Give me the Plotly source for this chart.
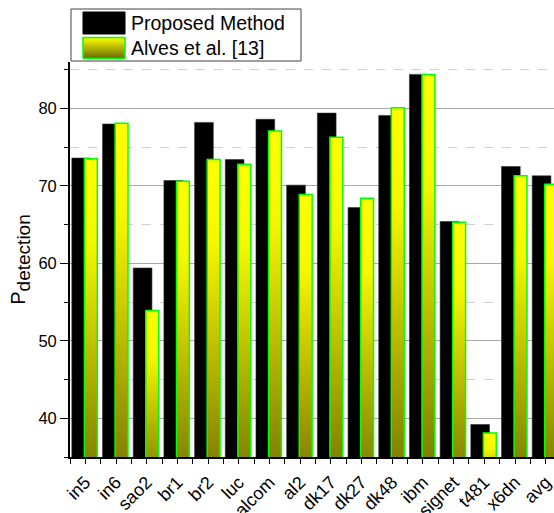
import plotly.graph_objects as go

# Benchmark circuits and detection probabilities (%)
circuits = ["in5", "in6", "sao2", "br1", "br2", "luc", "alcom", "al2", "dk17",
            "dk27", "dk48", "ibm", "signet", "t481", "x6dn", "avg"]
proposed = [73.6, 78.0, 59.4, 70.7, 78.2, 73.4, 78.6, 70.1, 79.4,
            67.2, 79.1, 84.4, 65.4, 39.2, 72.5, 71.3]
alves = [73.5, 78.1, 53.9, 70.6, 73.4, 72.8, 77.1, 68.9, 76.3,
         68.4, 80.1, 84.4, 65.3, 38.1, 71.3, 70.2]
y_ticks = [40, 50, 60, 70, 80]

FONT = "Arial, Liberation Sans, sans-serif"
W, H = 554, 513
ML, MR, MT, MB = 70, 0, 0, 56
PW, PH = W - ML - MR, H - MT - MB
AXIS_TOP = 62  # pixel row where the value axis ends

OLIVE_YELLOW = [[0.0, "rgb(112,112,0)"], [0.75, "rgb(246,246,0)"], [1.0, "rgb(255,255,0)"]]

# bar geometry in category units
BLACK_OFF, BLACK_W = -0.44, 0.61
YEL_OFF, YEL_W = -0.03, 0.42

idx = list(range(len(circuits)))

fig = go.Figure()

fig.add_trace(go.Bar(
    x=idx, y=proposed, width=BLACK_W, offset=BLACK_OFF,
    marker=dict(color="black", line=dict(color="#303030", width=0.6)),
    showlegend=False, name="Proposed Method",
))

# gradient-filled bars for the comparison method
for i, v in zip(idx, alves):
    x0, x1 = i + YEL_OFF, i + YEL_OFF + YEL_W
    fig.add_trace(go.Scatter(
        x=[x0, x0, x1, x1, x0], y=[0, v, v, 0, 0],
        mode="lines", fill="toself",
        line=dict(color="#00ff00", width=1.5),
        fillgradient=dict(type="vertical", colorscale=OLIVE_YELLOW, start=30, stop=v),
        hoverinfo="skip", showlegend=False,
    ))

# ---- legend drawn in its own small pixel-space axes ----
LX0, LX1, LY0, LY1 = 71, 301, 9, 61
fig.add_shape(type="rect", xref="x2", yref="y2", x0=LX0, x1=LX1, y0=LY0, y1=LY1,
              line=dict(color="#404040", width=1), fillcolor="white", layer="below")
fig.add_trace(go.Scatter(
    x=[83, 83, 125, 125, 83], y=[34, 12, 12, 34, 34], xaxis="x2", yaxis="y2",
    mode="lines", fill="toself", fillcolor="black", line=dict(color="black", width=1),
    hoverinfo="skip", showlegend=False,
))
fig.add_trace(go.Scatter(
    x=[83, 83, 125, 125, 83], y=[58.5, 37.5, 37.5, 58.5, 58.5], xaxis="x2", yaxis="y2",
    mode="lines", fill="toself", line=dict(color="#00ff00", width=1.5),
    fillgradient=dict(type="vertical", colorscale=[[0, "rgb(105,105,0)"], [1, "rgb(255,255,0)"]],
                      start=58.5, stop=37.5),
    hoverinfo="skip", showlegend=False,
))
for ty, label in [(23, "Proposed Method"), (48, "Alves et al. [13]")]:
    fig.add_annotation(x=128.5, y=ty, xref="x2", yref="y2", text=label, showarrow=False,
                       xanchor="left", yanchor="middle",
                       font=dict(family=FONT, size=19.5, color="black"))

ydom_top = (PH - AXIS_TOP) / PH

fig.update_layout(
    width=W, height=H,
    margin=dict(l=ML, r=MR, t=MT, b=MB),
    paper_bgcolor="white", plot_bgcolor="white",
    barmode="overlay",
    font=dict(family=FONT, color="black"),
    xaxis=dict(
        domain=[0, 1], range=[-0.5, -0.5 + PW / 30.69], automargin=False,
        tickmode="array", tickvals=idx, ticktext=circuits, tickangle=-45,
        tickfont=dict(size=18, family=FONT),
        ticklabeloverflow="allow", ticklabelstandoff=1,
        ticks="outside", ticklen=5, tickwidth=1.2, tickcolor="black",
        showline=True, linecolor="black", linewidth=1.6,
        showgrid=False, zeroline=False,
        minor=dict(tickmode="array", tickvals=[i + 0.5 for i in range(-1, len(circuits))],
                   ticks="outside", ticklen=5, tickwidth=1.2, tickcolor="black"),
    ),
    yaxis=dict(
        domain=[0, ydom_top], range=[35, 86], automargin=False,
        tickmode="array", tickvals=y_ticks,
        tickfont=dict(size=16.5, family=FONT),
        ticks="outside", ticklen=8, tickwidth=1.4, tickcolor="black",
        showline=True, linecolor="black", linewidth=1.8,
        showgrid=True, gridcolor="#a8a8a8", gridwidth=1.4, zeroline=False,
        minor=dict(dtick=5, tick0=0, ticks="outside", ticklen=4, tickwidth=1.2, tickcolor="black",
                   showgrid=True, gridcolor="#d0d0d0", griddash="dash", gridwidth=1),
        title=dict(text='P<sub><span style="font-size:19px">detection</span></sub>',
                   font=dict(size=20, family=FONT), standoff=7),
    ),
    xaxis2=dict(domain=[(LX0 - 2 - ML) / PW if LX0 - 2 > ML else 0, (LX1 + 2 - ML) / PW],
                range=[LX0 - 2 if LX0 - 2 > ML else ML, LX1 + 2], visible=False, anchor="y2",
                fixedrange=True),
    yaxis2=dict(domain=[(PH - (LY1 + 1)) / PH, (PH - (LY0 - 1)) / PH],
                range=[LY1 + 1, LY0 - 1], visible=False, anchor="x2", fixedrange=True),
    showlegend=False,
)

fig.write_html("out.html")
